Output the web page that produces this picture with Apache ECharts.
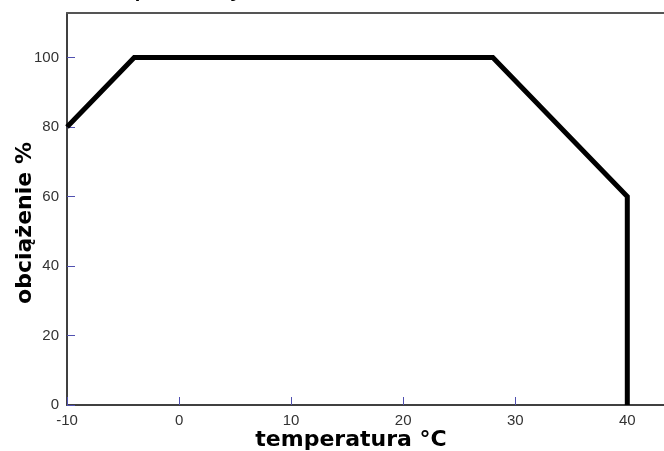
<!DOCTYPE html>
<html>
<head>
<meta charset="utf-8">
<script src="https://cdn.jsdelivr.net/npm/echarts@6/dist/echarts.min.js"></script>
<style>html,body{margin:0;padding:0;background:#fff;}#c{width:664px;height:451px;}</style>
</head>
<body>
<div id="c"></div>
<script>
// data
var titleText = "Dopuszczalny zakres";
var xName = "temperatura °C";
var yName = "obciążenie %";
var temps = [-10, -4, 28, 40, 40];
var loads = [80, 100, 100, 60, 0];
var xTicks = [-10, 0, 10, 20, 30, 40];
var yTicks = [0, 20, 40, 60, 80, 100];

var chart = echarts.init(document.getElementById('c'), null, {renderer: 'canvas'});
var pts = temps.map(function (t, i) { return [t, loads[i]]; });
var xMax = 43.9;
chart.setOption({
  backgroundColor: '#ffffff',
  animation: false,
  grid: {left: 67, width: 604, top: 13, bottom: 46, show: false, containLabel: false, outerBoundsMode: 'none'},
  xAxis: [{
    type: 'value', min: xTicks[0], max: xMax, interval: 10,
    axisLine: {show: true, onZero: false, lineStyle: {color: '#404040', width: 2}},
    axisTick: {show: true, inside: true, length: 8, lineStyle: {color: '#5050b0', width: 1}},
    axisLabel: {show: true, showMaxLabel: false, margin: 8, color: '#333', fontFamily: 'Liberation Sans', fontSize: 15},
    splitLine: {show: false}
  }, {
    type: 'value', position: 'top', min: xTicks[0], max: xMax, interval: 10,
    axisLine: {show: true, onZero: false, lineStyle: {color: '#555', width: 2}},
    axisTick: {show: false}, axisLabel: {show: false}, splitLine: {show: false}
  }],
  yAxis: {
    type: 'value', min: yTicks[0], max: 112.8, interval: 20,
    axisLine: {show: true, onZero: false, lineStyle: {color: '#404040', width: 2}},
    axisTick: {show: true, inside: true, length: 8, lineStyle: {color: '#5050b0', width: 1}},
    axisLabel: {show: true, showMaxLabel: false, margin: 8, color: '#333', fontFamily: 'Liberation Sans', fontSize: 15},
    splitLine: {show: false}
  },
  graphic: [
    {type: 'text', x: 108, y: 1, style: {text: titleText, font: 'bold 20px "Liberation Sans"', fill: '#000', textAlign: 'left', textVerticalAlign: 'bottom'}},
    {type: 'text', x: 351, y: 440, style: {text: xName, font: 'bold 22px "DejaVu Sans"', fill: '#000', textAlign: 'center', textVerticalAlign: 'middle'}},
    {type: 'text', x: 25, y: 223, rotation: Math.PI / 2, style: {text: yName, font: 'bold 22px "DejaVu Sans"', fill: '#000', textAlign: 'center', textVerticalAlign: 'middle'}}
  ],
  series: [{
    type: 'line', xAxisIndex: 0, data: pts, showSymbol: false, symbol: 'none',
    lineStyle: {color: '#000', width: 5, join: 'miter'}
  }]
});
</script>
</body>
</html>
